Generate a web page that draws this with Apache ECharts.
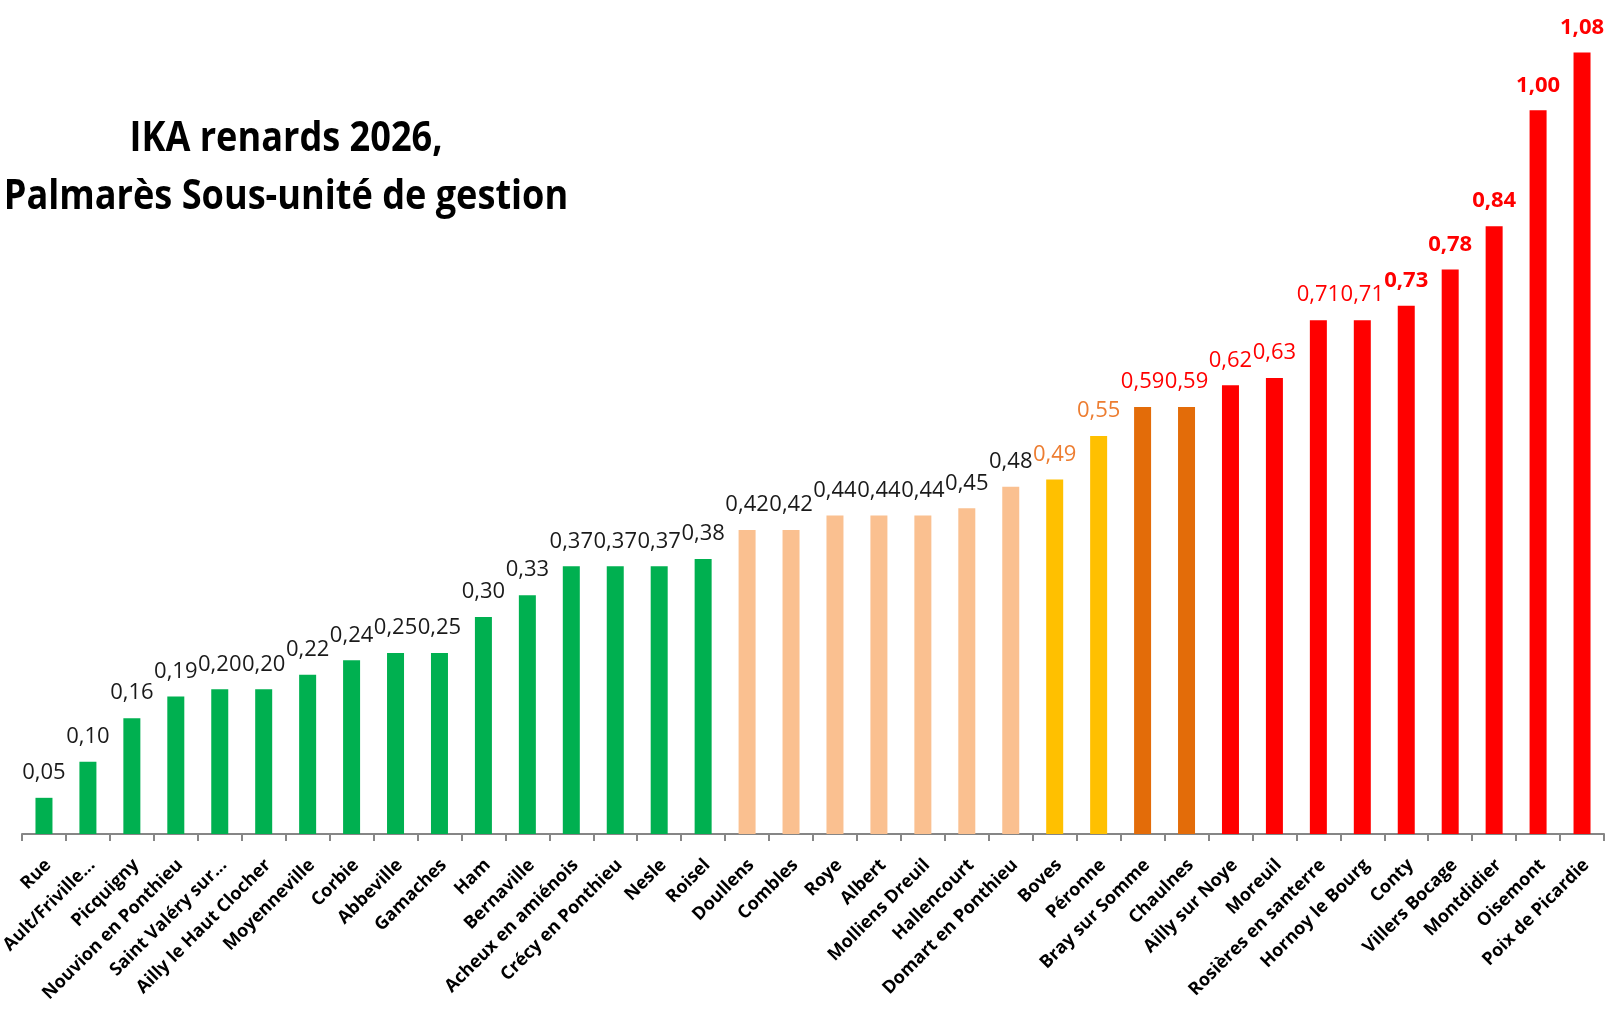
<!DOCTYPE html>
<html>
<head>
<meta charset="utf-8">
<script src="https://cdn.jsdelivr.net/npm/echarts@6/dist/echarts.min.js"></script>
<style>
html,body{margin:0;padding:0;background:#fff;}
#chart{width:1610px;height:1015px;}
</style>
</head>
<body>
<div id="chart"></div>
<script>
// Sous-unités de gestion (ordre du palmarès)
var categories = ["Rue","Ault/Friville...","Picquigny","Nouvion en Ponthieu","Saint Valéry sur...","Ailly le Haut Clocher","Moyenneville","Corbie","Abbeville","Gamaches","Ham","Bernaville","Acheux en amiénois","Crécy en Ponthieu","Nesle","Roisel","Doullens","Combles","Roye","Albert","Molliens Dreuil","Hallencourt","Domart en Ponthieu","Boves","Péronne","Bray sur Somme","Chaulnes","Ailly sur Noye","Moreuil","Rosières en santerre","Hornoy le Bourg","Conty","Villers Bocage","Montdidier","Oisemont","Poix de Picardie"];
// IKA renards 2026
var values = [0.05,0.10,0.16,0.19,0.20,0.20,0.22,0.24,0.25,0.25,0.30,0.33,0.37,0.37,0.37,0.38,0.42,0.42,0.44,0.44,0.44,0.45,0.48,0.49,0.55,0.59,0.59,0.62,0.63,0.71,0.71,0.73,0.78,0.84,1.00,1.08];
// classe de chaque sous-unité
var classes = ["vert","vert","vert","vert","vert","vert","vert","vert","vert","vert","vert","vert","vert","vert","vert","vert","peche","peche","peche","peche","peche","peche","peche","jaune","jaune","orange","orange","rouge","rouge","rouge","rouge","rougeFort","rougeFort","rougeFort","rougeFort","rougeFort"];
var titleLines = ["IKA renards 2026,", "Palmarès Sous-unité de gestion"];

var barColor = {vert:"#00B050", peche:"#FAC090", jaune:"#FFC000", orange:"#E36C09", rouge:"#FF0000", rougeFort:"#FF0000"};
var labelColor = {vert:"#1a1a1a", peche:"#1a1a1a", jaune:"#ED7D31", orange:"#FF0000", rouge:"#FF0000", rougeFort:"#FF0000"};

var seriesData = values.map(function(v,i){
  var c = classes[i];
  return {
    value: v,
    itemStyle: {color: barColor[c]},
    label: {color: labelColor[c], fontWeight: c === "rougeFort" ? "bold" : "normal"}
  };
});

var chart = echarts.init(document.getElementById('chart'), null, {renderer:'canvas'});
chart.setOption({
  animation: false,
  backgroundColor: '#ffffff',
  graphic: [{
    type: 'text',
    x: 286, y: 110,
    scaleX: 0.86,
    style: {
      text: titleLines.join('\n'),
      fontFamily: 'Open Sans', fontWeight: 'bold', fontSize: 42, lineHeight: 58,
      fill: '#000', align: 'center', verticalAlign: 'top'
    }
  }],
  grid: {left: 22, right: 6, top: 38, bottom: 181, containLabel: false, outerBoundsMode: 'none'},
  xAxis: {
    type: 'category',
    data: categories,
    axisLine: {lineStyle: {color: '#868686', width: 2}},
    axisTick: {show: true, length: 7, lineStyle: {color: '#868686', width: 2}},
    axisLabel: {
      interval: 0, rotate: 45, margin: 24,
      verticalAlign: 'top', lineHeight: 12,
      fontFamily: 'Open Sans', fontWeight: 'bold', fontSize: 18, color: '#000'
    }
  },
  yAxis: {
    type: 'value', min: 0, max: 1.1,
    show: false, splitLine: {show: false}
  },
  series: [{
    type: 'bar',
    data: seriesData,
    barWidth: 17,
    label: {
      show: true, position: 'top', distance: 14,
      fontFamily: 'Open Sans', fontSize: 22,
      formatter: function(p){ return p.value.toFixed(2).replace('.', ','); }
    }
  }]
});
</script>
</body>
</html>
